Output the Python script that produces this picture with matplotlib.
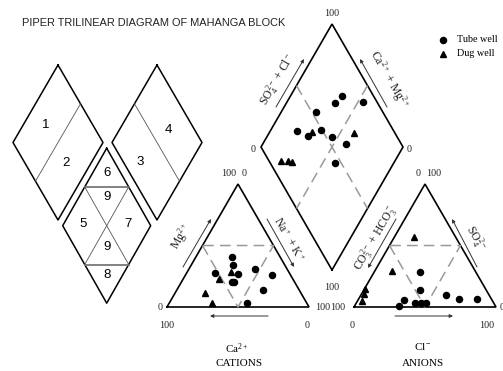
import numpy as np
import matplotlib
matplotlib.use("Agg")
import matplotlib.pyplot as plt

plt.rcParams['font.family'] = ['Liberation Serif', 'DejaVu Serif']
plt.rcParams['mathtext.fontset'] = 'custom'
plt.rcParams['mathtext.rm'] = 'Liberation Serif'
plt.rcParams['mathtext.it'] = 'Liberation Serif:italic'
plt.rcParams['mathtext.bf'] = 'Liberation Serif:bold'

# ---- data (percent values) ----
# cations: Mg %, Na+K %  (Ca = rest)
cat_tube_mg = [40.4, 34.1, 27.4, 26.6, 20.6, 20.0, 30.7, 26.0, 13.8, 3.0]
cat_tube_nak = [25.4, 29.6, 20.1, 36.5, 35.5, 37.5, 46.6, 60.7, 60.5, 54.6]
cat_dug_mg = [28.2, 22.5, 11.1, 3.5]
cat_dug_nak = [31.0, 25.6, 21.2, 29.8]

# anions: SO4 %, Cl %  (CO3+HCO3 = rest)
an_tube_so4 = [28.7, 13.8, 5.7, 0.8, 3.5, 3.5, 3.5, 9.8, 6.3, 6.5]
an_tube_cl = [32.1, 39.6, 32.4, 31.3, 41.2, 45.2, 48.9, 59.7, 71.0, 83.2]
an_dug_so4 = [56.7, 29.3, 15.0, 10.5, 4.5]
an_dug_cl = [14.0, 12.1, 0.5, 2.0, 3.5]

# diamond: SO4+Cl %, Ca+Mg %
dia_tube_so4cl = [78.0, 69.9, 89.8, 53.1, 32.2, 37.9, 49.0, 54.0, 61.0, 45.5]
dia_tube_camg = [63.5, 65.7, 46.6, 75.6, 81.1, 71.3, 64.9, 54.4, 41.3, 41.3]
dia_dug_so4cl = [41.7, 71.3, 8.5, 13.7, 16.0]
dia_dug_camg = [70.3, 39.9, 80.4, 75.2, 71.9]

zone_labels = ['1', '2', '3', '4', '5', '6', '7', '8', '9', '9']

# ---- geometry (pixels) ----
SIDE = 142.0
H = SIDE * np.sqrt(3) / 2
BASE_Y = 307.0
CAT_X0 = 167.0
AN_X0 = 354.0
DB_X, DB_Y = 332.0, 270.0


def cation_xy(mg, nak):
    mg = np.asarray(mg); nak = np.asarray(nak)
    return CAT_X0 + SIDE * (nak + mg / 2) / 100, BASE_Y - H * mg / 100


def anion_xy(so4, cl):
    so4 = np.asarray(so4); cl = np.asarray(cl)
    return AN_X0 + SIDE * (cl + so4 / 2) / 100, BASE_Y - H * so4 / 100


def diamond_xy(so4cl, camg):
    a = np.asarray(so4cl); c = np.asarray(camg)
    return DB_X + SIDE / 2 * (a - c) / 100, DB_Y - H * (a + c) / 100


fig = plt.figure(figsize=(5.03, 3.71), dpi=100)
ax = fig.add_axes([0, 0, 1, 1])
ax.set_xlim(0, 503)
ax.set_ylim(371, 0)
ax.axis('off')

blk = dict(color='black', lw=1.2, solid_joinstyle='miter')
dash = dict(color='#9a9a9a', lw=1.1, dashes=(7, 4))

ax.text(22, 23.5, 'PIPER TRILINEAR DIAGRAM OF MAHANGA BLOCK', fontsize=7.9,
        family='Liberation Sans', color='#222', va='center', ha='left')

# ---- schematic diamonds on the left ----
def sdiamond(cx, cy, hw, hh, **kw):
    xs = [cx, cx + hw, cx, cx - hw, cx]
    ys = [cy - hh, cy, cy + hh, cy, cy - hh]
    ax.plot(xs, ys, **kw)

sd = dict(color='black', lw=1.1)
sdiamond(58, 142.5, 45, 77.5, **sd)
sdiamond(157, 142.5, 45, 77.5, **sd)
sdiamond(106.7, 225.7, 44, 77.5, **sd)
thin = dict(color='#555', lw=0.6)
ax.plot([80.5, 35.5], [103.8, 181.2], **thin)
ax.plot([134.5, 179.5], [103.8, 181.2], **thin)
ax.plot([84.7, 128.7], [186.9, 186.9], color='#777', lw=1.3)
ax.plot([84.7, 128.7], [264.5, 264.5], color='#777', lw=1.3)
ax.plot([84.7, 128.7], [186.9, 264.5], **thin)
ax.plot([128.7, 84.7], [186.9, 264.5], **thin)
zone_pos = [(46, 125), (66, 163), (140, 162), (168, 130), (83.5, 224),
            (106.7, 173.5), (128.5, 224), (106.7, 275.5), (106.7, 197.5), (106.7, 247.5)]
for lab, (zx, zy) in zip(zone_labels, zone_pos):
    ax.text(zx, zy, lab, fontsize=9.5, family='Liberation Sans', ha='center', va='center')

# ---- cation triangle ----
ax.plot([CAT_X0, CAT_X0 + SIDE, CAT_X0 + SIDE / 2, CAT_X0],
        [BASE_Y, BASE_Y, BASE_Y - H, BASE_Y], **blk)
ax.plot([CAT_X0 + SIDE / 4, CAT_X0 + SIDE / 2, CAT_X0 + 3 * SIDE / 4, CAT_X0 + SIDE / 4],
        [BASE_Y - H / 2, BASE_Y, BASE_Y - H / 2, BASE_Y - H / 2], **dash)
# ---- anion triangle ----
ax.plot([AN_X0, AN_X0 + SIDE, AN_X0 + SIDE / 2, AN_X0],
        [BASE_Y, BASE_Y, BASE_Y - H, BASE_Y], **blk)
ax.plot([AN_X0 + SIDE / 4, AN_X0 + SIDE / 2, AN_X0 + 3 * SIDE / 4, AN_X0 + SIDE / 4],
        [BASE_Y - H / 2, BASE_Y, BASE_Y - H / 2, BASE_Y - H / 2], **dash)
# ---- diamond ----
ax.plot([DB_X, DB_X + SIDE / 2, DB_X, DB_X - SIDE / 2, DB_X],
        [DB_Y, DB_Y - H, DB_Y - 2 * H, DB_Y - H, DB_Y], **blk)
ax.plot([DB_X - SIDE / 4, DB_X + SIDE / 4], [DB_Y - 1.5 * H, DB_Y - 0.5 * H], **dash)
ax.plot([DB_X + SIDE / 4, DB_X - SIDE / 4], [DB_Y - 1.5 * H, DB_Y - 0.5 * H], **dash)

# ---- points ----
circ = dict(ls='none', marker='o', ms=4.4, color='black')
tri = dict(ls='none', marker='^', ms=3.8, color='black')
ax.plot(*cation_xy(cat_tube_mg, cat_tube_nak), **circ)
ax.plot(*cation_xy(cat_dug_mg, cat_dug_nak), **tri)
ax.plot(*anion_xy(an_tube_so4, an_tube_cl), **circ)
ax.plot(*anion_xy(an_dug_so4, an_dug_cl), **tri)
ax.plot(*diamond_xy(dia_tube_so4cl, dia_tube_camg), **circ)
ax.plot(*diamond_xy(dia_dug_so4cl, dia_dug_camg), **tri)

# ---- legend ----
ax.plot([443], [40], **circ)
ax.plot([443], [53.5], **tri)
ax.text(457, 40, 'Tube well', fontsize=7.3, va='center', ha='left')
ax.text(457, 53.5, 'Dug well', fontsize=7.3, va='center', ha='left')

# ---- arrows ----
def arrow(tail, head):
    ax.annotate('', xy=head, xytext=tail,
                arrowprops=dict(arrowstyle='-|>', color='#333', lw=0.7,
                                mutation_scale=5, shrinkA=0, shrinkB=0))

arrow((183, 267), (211, 219))
arrow((267, 219), (294, 267))
arrow((268, 316), (210, 316))
arrow((396, 219), (368, 268))
arrow((477, 267), (452, 219))
arrow((395, 316), (453, 316))
arrow((276, 107), (304, 59))
arrow((387, 107), (360, 59))

# ---- axis texts ----
fs = 7.2
lab = dict(fontsize=fs, ha='center', va='center', color='#222')
rl = dict(fontsize=8.5, ha='center', va='center', color='#222')
ax.text(181, 236, 'Mg$^{2+}$', rotation=60, **rl)
ax.text(289, 240, 'Na$^+$ + K$^+$', rotation=-60, **rl)
ax.text(376, 238, 'CO$_3^{2-}$ + HCO$_3^-$', rotation=60, **rl)
ax.text(475, 238, 'SO$_4^{2-}$', rotation=-60, **rl)
ax.text(278, 80, 'SO$_4^{2-}$ + Cl$^-$', rotation=60, **rl)
ax.text(389, 80, 'Ca$^{2+}$ + Mg$^{2+}$', rotation=-60, **rl)

nums = [('100', 332, 13), ('0', 253, 150), ('0', 409, 150), ('100', 332, 288),
        ('100', 229, 173), ('0', 244, 173), ('0', 418, 173), ('100', 434, 173),
        ('0', 160, 308), ('100', 167, 326), ('0', 307, 326),
        ('100', 323, 308), ('100', 338, 308),
        ('0', 352, 326), ('100', 487, 326), ('0', 502, 308)]
for t, nx, ny in nums:
    ax.text(nx, ny, t, **lab)

ax.text(237, 349, 'Ca$^{2+}$', fontsize=8, ha='center', va='center')
ax.text(239, 363, 'CATIONS', fontsize=8, ha='center', va='center')
ax.text(423, 347, 'Cl$^-$', fontsize=8, ha='center', va='center')
ax.text(423, 363, 'ANIONS', fontsize=8, ha='center', va='center')

fig.savefig('out.png', dpi=100)
